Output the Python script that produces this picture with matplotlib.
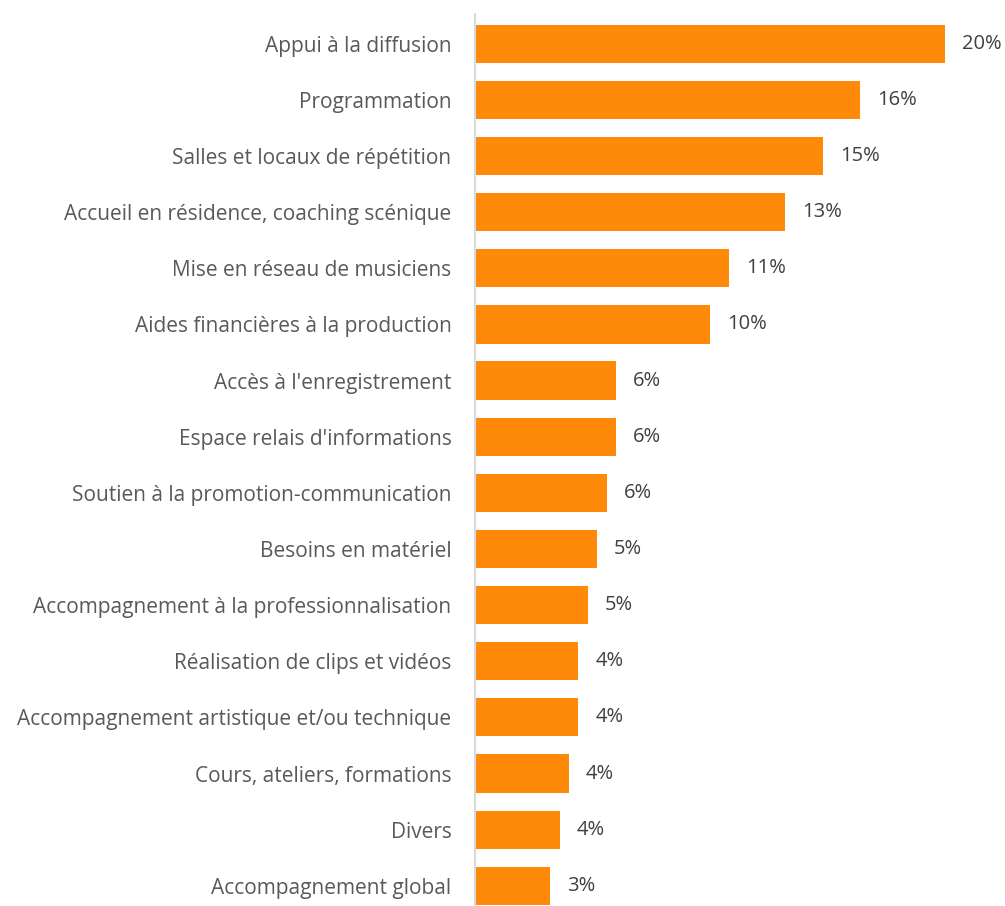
import matplotlib
matplotlib.use("Agg")
import matplotlib.pyplot as plt

plt.rcParams['font.family'] = ['Open Sans', 'DejaVu Sans']

categories = [
    "Appui à la diffusion",
    "Programmation",
    "Salles et locaux de répétition",
    "Accueil en résidence, coaching scénique",
    "Mise en réseau de musiciens",
    "Aides financières à la production",
    "Accès à l'enregistrement",
    "Espace relais d'informations",
    "Soutien à la promotion-communication",
    "Besoins en matériel",
    "Accompagnement à la professionnalisation",
    "Réalisation de clips et vidéos",
    "Accompagnement artistique et/ou technique",
    "Cours, ateliers, formations",
    "Divers",
    "Accompagnement global",
]
# share of respondents, in percent
shares = [20.0, 16.4, 14.8, 13.2, 10.8, 10.0, 6.0, 6.0, 5.6, 5.2, 4.8, 4.4, 4.4, 4.0, 3.6, 3.2]

W, H = 1005, 906
fig = plt.figure(figsize=(W / 100, H / 100), dpi=100)
ax = fig.add_axes([475 / W, 0, (1000 - 475) / W, (906 - 14) / H])

ypos = list(range(len(categories)))
ax.barh(ypos, shares, height=0.68, color="#ff8a0a", edgecolor="none")

ax.set_xlim(0, (1000 - 475) / 23.5)
ax.set_ylim(15.36, -0.53)

ax.set_yticks(ypos)
ax.set_yticklabels(categories, fontsize=15, color="#595959")
ax.tick_params(axis="y", length=0, pad=17)
ax.set_xticks([])

for s in ["top", "right", "bottom"]:
    ax.spines[s].set_visible(False)
ax.spines["left"].set_color("#d9d9d9")
ax.spines["left"].set_linewidth(1.5)

for y, v in zip(ypos, shares):
    ax.text(v + 17 / 23.5, y, f"{v:.0f}%", va="center", ha="left",
            fontsize=14.5, color="#404040")

fig.savefig("out.png", dpi=100)
